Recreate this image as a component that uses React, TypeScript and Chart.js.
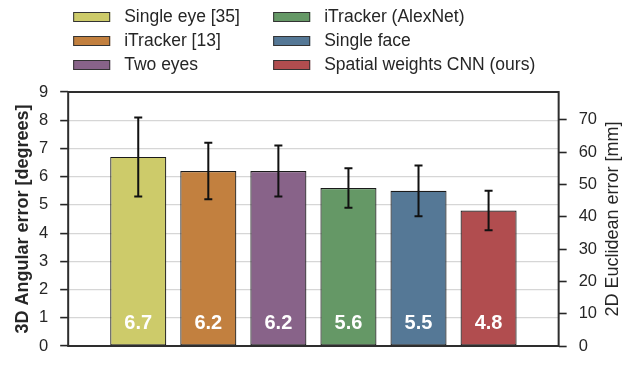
import React, { useEffect, useRef } from 'react';
import { Chart, registerables } from 'chart.js';

Chart.register(...registerables);

// ---- data ----
const methods = [
  'Single eye [35]',
  'iTracker [13]',
  'Two eyes',
  'iTracker (AlexNet)',
  'Single face',
  'Spatial weights CNN (ours)',
];
const angularError = [6.7, 6.2, 6.2, 5.6, 5.5, 4.8];
const errorStd = [1.4, 1.0, 0.9, 0.7, 0.9, 0.7];
const barColors = ['#CDCB6A', '#C2803F', '#886389', '#659866', '#557896', '#B14D4F'];
const leftTicks = [0, 1, 2, 3, 4, 5, 6, 7, 8, 9];
const rightTicks = [0, 10, 20, 30, 40, 50, 60, 70];
const degreeMax = 9;
const mmPerDegree = 8.73;
const leftTitle = '3D Angular error [degrees]';
const rightTitle = '2D Euclidean error [mm]';

const FONT = "'Liberation Sans', Arial, Helvetica, sans-serif";
const DARK = '#262626';

const overlayPlugin = {
  id: 'overlay',
  afterDatasetsDraw(chart: any) {
    const { ctx, chartArea, scales } = chart;
    const y = scales.y;
    ctx.save();
    // frame
    ctx.strokeStyle = '#2e2e2e';
    ctx.lineWidth = 2;
    ctx.strokeRect(chartArea.left, chartArea.top, chartArea.right - chartArea.left, chartArea.bottom - chartArea.top);

    chart.data.datasets.forEach((ds: any, i: number) => {
      const meta = chart.getDatasetMeta(i);
      const bar = meta.data[0];
      if (!bar) return;
      const v = angularError[i];
      const s = errorStd[i];
      const x = bar.x;
      const yt = y.getPixelForValue(v + s);
      const yb = y.getPixelForValue(v - s);
      ctx.strokeStyle = '#111111';
      ctx.lineWidth = 2;
      ctx.beginPath();
      ctx.moveTo(x, yt);
      ctx.lineTo(x, yb);
      ctx.moveTo(x - 4, yt);
      ctx.lineTo(x + 4, yt);
      ctx.moveTo(x - 4, yb);
      ctx.lineTo(x + 4, yb);
      ctx.stroke();

      // value label
      ctx.fillStyle = '#ffffff';
      ctx.font = `bold 20px ${FONT}`;
      ctx.textAlign = 'center';
      ctx.textBaseline = 'middle';
      ctx.fillText(v.toFixed(1), x, y.getPixelForValue(0) - 23);
    });
    ctx.restore();
  },
  afterDraw(chart: any) {
    const { ctx, chartArea } = chart;
    const midY = (chartArea.top + chartArea.bottom) / 2;
    // axis titles, both reading bottom to top
    ctx.save();
    ctx.translate(chartArea.left - 45, midY);
    ctx.rotate(-Math.PI / 2);
    ctx.fillStyle = DARK;
    ctx.font = `bold 18px ${FONT}`;
    ctx.textAlign = 'center';
    ctx.textBaseline = 'middle';
    ctx.fillText(leftTitle, 0, 0);
    ctx.restore();

    ctx.save();
    ctx.translate(chartArea.right + 54, midY);
    ctx.rotate(-Math.PI / 2);
    ctx.fillStyle = DARK;
    ctx.font = `18px ${FONT}`;
    ctx.textAlign = 'center';
    ctx.textBaseline = 'middle';
    ctx.fillText(rightTitle, 0, 0);
    ctx.restore();

    // legend: 2 columns x 3 rows
    ctx.save();
    const colX = [chartArea.left + 5, chartArea.left + 205];
    const rowY = [12, 36, 60];
    const boxW = 37;
    const boxH = 10;
    chart.data.datasets.forEach((ds: any, i: number) => {
      const col = Math.floor(i / 3);
      const row = i % 3;
      const bx = colX[col];
      const by = rowY[row];
      ctx.fillStyle = ds.backgroundColor;
      ctx.fillRect(bx, by, boxW, boxH);
      ctx.strokeStyle = '#333333';
      ctx.lineWidth = 1;
      ctx.strokeRect(bx + 0.5, by + 0.5, boxW - 1, boxH - 1);
      ctx.fillStyle = DARK;
      ctx.font = `17.5px ${FONT}`;
      ctx.textAlign = 'left';
      ctx.textBaseline = 'middle';
      ctx.fillText(ds.label, bx + boxW + 14, by + boxH / 2 + 0.5);
    });
    ctx.restore();
  },
};

export default function App() {
  const canvasRef = useRef<HTMLCanvasElement | null>(null);

  useEffect(() => {
    if (!canvasRef.current) return;
    const chart = new Chart(canvasRef.current, {
      type: 'bar',
      data: {
        datasets: methods.map((m, i) => ({
          label: m,
          data: [{ x: i + 1, y: angularError[i] }],
          backgroundColor: barColors[i],
          borderColor: '#1a1a1a',
          borderWidth: 1.2,
          borderSkipped: false,
          grouped: false,
          categoryPercentage: 0.8,
          barPercentage: 1.0,
          yAxisID: 'y',
        })),
      },
      options: {
        animation: false,
        responsive: false,
        events: [],
        layout: { padding: { top: 92, bottom: 24, left: 27, right: 27 } },
        plugins: {
          legend: { display: false },
          tooltip: { enabled: false },
        },
        scales: {
          x: {
            type: 'linear',
            min: 0,
            max: methods.length + 1,
            offset: false,
            display: false,
          },
          y: {
            type: 'linear',
            position: 'left',
            min: 0,
            max: degreeMax,
            afterBuildTicks: (scale: any) => {
              scale.ticks = leftTicks.map((v) => ({ value: v }));
            },
            grid: {
              color: '#d6d6d6',
              lineWidth: 1.2,
              drawTicks: true,
              tickLength: 8,
              tickColor: DARK,
              tickWidth: 1.6,
            },
            border: { display: false },
            ticks: {
              color: DARK,
              padding: 12,
              font: { family: FONT, size: 16.5 },
            },
          },
          y2: {
            type: 'linear',
            position: 'right',
            min: 0,
            max: degreeMax * mmPerDegree,
            afterBuildTicks: (scale: any) => {
              scale.ticks = rightTicks.map((v) => ({ value: v }));
            },
            grid: {
              drawOnChartArea: false,
              drawTicks: true,
              tickLength: 8,
              tickColor: DARK,
              tickWidth: 1.6,
            },
            border: { display: false },
            ticks: {
              color: DARK,
              padding: 12,
              font: { family: FONT, size: 16.5 },
            },
          },
        },
      } as any,
      plugins: [overlayPlugin],
    });
    return () => chart.destroy();
  }, []);

  return (
    <div style={{ position: 'fixed', left: 0, top: 0, width: 636, height: 370, background: '#ffffff' }}>
      <canvas ref={canvasRef} width={636} height={370} />
    </div>
  );
}
